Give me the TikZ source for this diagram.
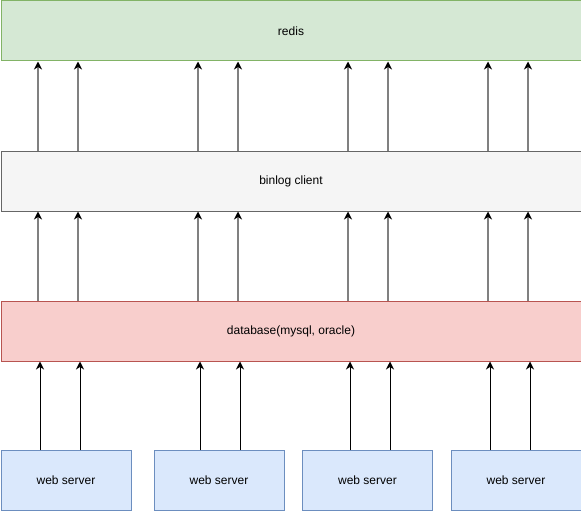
\documentclass[tikz,border=0pt]{standalone}
\usepackage{fontspec}
\setmainfont{Liberation Sans}
\usetikzlibrary{arrows.meta}
\definecolor{gfill}{HTML}{D5E8D4}
\definecolor{gline}{HTML}{82B366}
\definecolor{cfill}{HTML}{F5F5F5}
\definecolor{cline}{HTML}{666666}
\definecolor{rfill}{HTML}{F8CECC}
\definecolor{rline}{HTML}{B85450}
\definecolor{bfill}{HTML}{DAE8FC}
\definecolor{bline}{HTML}{6C8EBF}
\definecolor{arrgray}{HTML}{808080}
\tikzset{
  box/.style={draw, line width=1pt, minimum height=60pt, inner sep=0pt, font=\fontsize{12pt}{14pt}\selectfont, anchor=north west},
  wide/.style={box, minimum width=580pt},
  ws/.style={box, fill=bfill, draw=bline, minimum width=130pt},
  thinarr/.style={line width=1pt, black, -{Stealth[length=8pt,width=8pt,inset=2.5pt]}},
  grayarr/.style={line width=2pt, arrgray, -{Stealth[length=8pt,width=8pt,inset=2.5pt,black,fill=black]}}
}
\begin{document}
\begin{tikzpicture}[x=1pt,y=-1pt]
\useasboundingbox (0,0) rectangle (581,511);
\node[wide, fill=gfill, draw=gline] (redis) at (0.5,0.5) {redis};
\node[wide, fill=cfill, draw=cline] (binlog) at (0.5,150.5) {binlog client};
\node[wide, fill=rfill, draw=rline] (db) at (0.5,300.5) {database(mysql, oracle)};
\node[ws] (w1) at (0.5,450) {web server};
\node[ws] (w2) at (153.5,450) {web server};
\node[ws] (w3) at (302,450) {web server};
\node[ws] (w4) at (450.5,450) {web server};
% web servers to database
\foreach \n/\a/\b in {w1/40/80, w2/200/240, w3/350/390, w4/490/530}{
  \draw[thinarr] (\n.north -| \a,0) -- (db.south -| \a,0);
  \draw[thinarr] (\n.north -| \b,0) -- (db.south -| \b,0);
}
% database to binlog, binlog to redis
\foreach \x in {38,78,198,238,348,388,488,528}{
  \draw[grayarr] (db.north -| \x,0) -- (binlog.south -| \x,0);
  \draw[grayarr] (binlog.north -| \x,0) -- (redis.south -| \x,0);
}
\end{tikzpicture}
\end{document}
